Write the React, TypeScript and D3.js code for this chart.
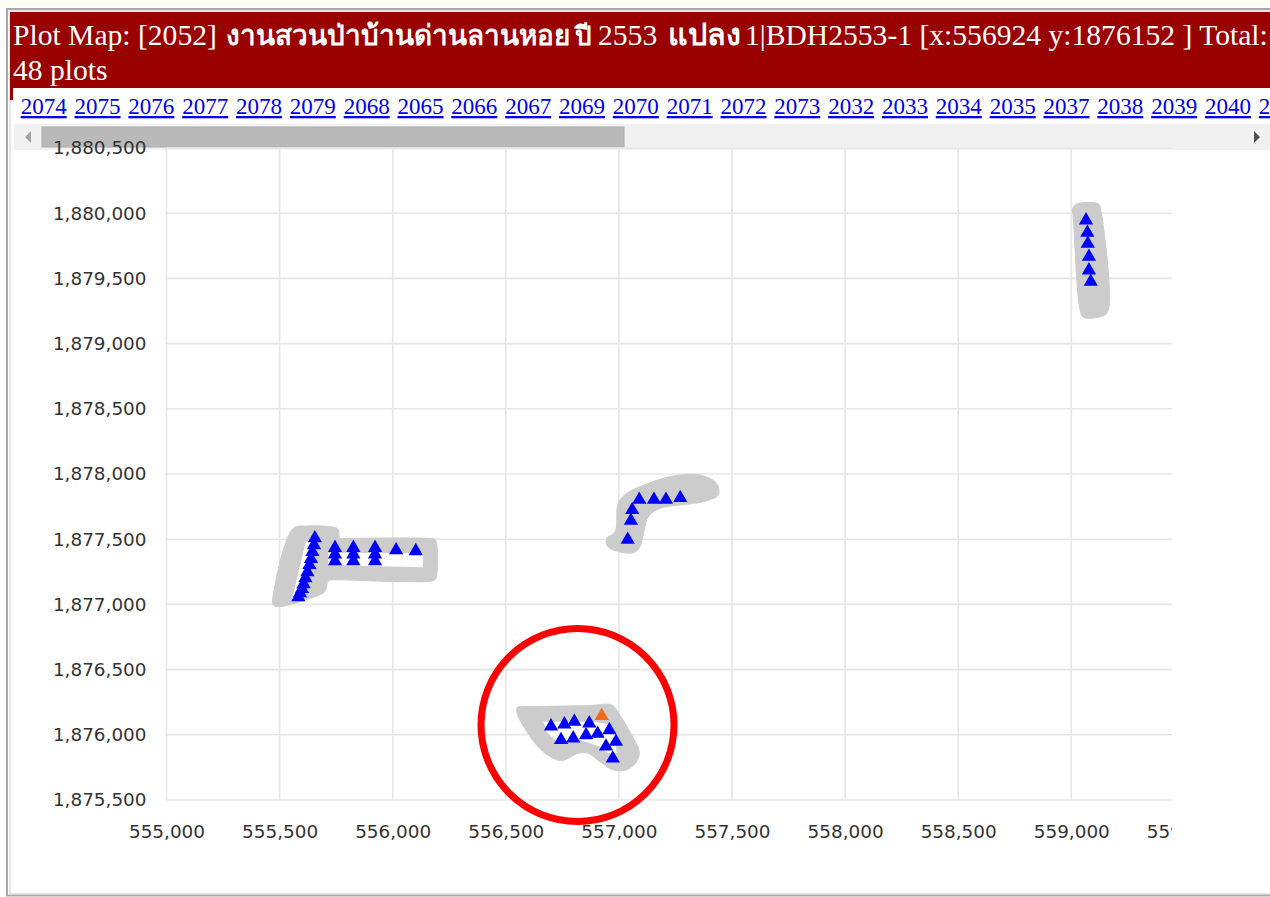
import React, { useEffect, useRef } from "react";
import * as d3 from "d3";

type Pt = [number, number];

const xTicks = [555000, 555500, 556000, 556500, 557000, 557500, 558000, 558500, 559000, 559500];
const yTicks = [1875500, 1876000, 1876500, 1877000, 1877500, 1878000, 1878500, 1879000, 1879500, 1880000, 1880500];

const plotLinks = [
  "2074", "2075", "2076", "2077", "2078", "2079", "2068", "2065", "2066", "2067", "2069", "2070",
  "2071", "2072", "2073", "2032", "2033", "2034", "2035", "2037", "2038", "2039", "2040", "2041",
];

// plots
const plotsNorth: Pt[] = [
  [559065, 1879953], [559071, 1879858], [559073, 1879774], [559078, 1879674], [559078, 1879570], [559086, 1879482],
];
const plotsMiddle: Pt[] = [
  [557039, 1877504], [557053, 1877650], [557059, 1877732], [557090, 1877811], [557155, 1877811], [557208, 1877811], [557271, 1877824],
];
const plotsSouth: Pt[] = [
  [556700, 1876073], [556759, 1876088], [556803, 1876108], [556869, 1876096], [556744, 1875968], [556798, 1875981],
  [556855, 1876006], [556906, 1876016], [556958, 1876044], [556987, 1875955], [556943, 1875919], [556973, 1875827],
];
const plotsWest: Pt[] = [
  [555656, 1877515], [555652, 1877463], [555645, 1877410], [555639, 1877356], [555632, 1877310], [555623, 1877256],
  [555614, 1877210], [555606, 1877164], [555599, 1877126], [555590, 1877095], [555583, 1877064],
  [555745, 1877442], [555745, 1877392], [555745, 1877340],
  [555826, 1877442], [555826, 1877392], [555826, 1877340],
  [555922, 1877442], [555922, 1877392], [555922, 1877340],
  [556015, 1877423], [556102, 1877417],
];
const currentPlot: Pt = [556924, 1876152];

// gray buffer areas around the plots
const zoneNorth: Pt[] = [
  [559006, 1880037], [559024, 1880071], [559120, 1880071], [559130, 1880025], [559167, 1879283],
  [559149, 1879220], [559053, 1879202], [559039, 1879258], [559009, 1879961],
];
const zoneMiddle: Pt[] = [
  [556946, 1877506], [556983, 1877557], [556997, 1877775], [557034, 1877851], [557130, 1877928], [557240, 1877984],
  [557358, 1877992], [557432, 1877928], [557439, 1877839], [557373, 1877788], [557181, 1877736], [557130, 1877672],
  [557093, 1877442], [557064, 1877396], [556975, 1877417], [556949, 1877448],
];
const zoneSouth: Pt[] = [
  [556551, 1876211], [556621, 1876216], [556872, 1876224], [556968, 1876229], [557004, 1876152], [557056, 1875999],
  [557090, 1875871], [557078, 1875794], [557034, 1875731], [556975, 1875731], [556916, 1875794], [556865, 1875858],
  [556820, 1875858], [556747, 1875802], [556695, 1875833], [556636, 1875922], [556562, 1876114], [556551, 1876165],
];
const holeSouth: Pt[] = [
  [556666, 1876101], [556901, 1876101], [556960, 1876076], [556982, 1876012], [556990, 1875858], [556953, 1875858],
  [556916, 1875909], [556828, 1875961], [556725, 1875948], [556680, 1876024],
];
const zoneWest: Pt[] = [
  [555560, 1877583], [555619, 1877601], [555745, 1877590], [555759, 1877575], [555767, 1877507], [555800, 1877507], [556150, 1877507],
  [556185, 1877500], [556194, 1877468], [556194, 1877220], [556185, 1877187], [556047, 1877174], [555730, 1877187], [555715, 1877180],
  [555700, 1877098], [555664, 1877065], [555501, 1876983], [555472, 1876996], [555472, 1877072],
];
const holeWestA: Pt[] = [[555616, 1877481], [555664, 1877481], [555605, 1877054], [555557, 1877054]];
const holeWestB: Pt[] = [[555715, 1877397], [556135, 1877392], [556132, 1877284], [555715, 1877302]];

const W = 1270;
const H = 897;
const CROP_RIGHT = 1172;

const x = d3.scaleLinear().domain([555000, 559000]).range([166.5, 1071.3]);
const y = d3.scaleLinear().domain([1875500, 1880500]).range([800, 148]);

const SERIF = "'Liberation Serif', 'Times New Roman', serif";

export default function App() {
  const plotRef = useRef<SVGGElement>(null);

  useEffect(() => {
    const g = d3.select(plotRef.current);
    g.selectAll("*").remove();

    const fmt = d3.format(",");

    const grid = g.append("g").attr("clip-path", "url(#plotClip)").attr("stroke", "#e6e6e6").attr("stroke-width", 1.6);
    grid.selectAll(".gy").data(yTicks).join("line").attr("class", "gy")
      .attr("x1", 166.5).attr("x2", CROP_RIGHT).attr("y1", (d) => y(d)).attr("y2", (d) => y(d));
    grid.selectAll(".gx").data(xTicks).join("line").attr("class", "gx")
      .attr("y1", 148).attr("y2", 800).attr("x1", (d) => x(d)).attr("x2", (d) => x(d));

    // labels through the d3 axes
    const yAxis = g.append("g").attr("transform", "translate(166.5,0)").call(
      d3.axisLeft(y).tickValues(yTicks).tickFormat((d) => fmt(d as number)).tickSize(0).tickPadding(20)
    );
    const xAxis = g.append("g").attr("clip-path", "url(#plotClip)").append("g").attr("transform", "translate(0,800)").call(
      d3.axisBottom(x).tickValues(xTicks).tickFormat((d) => fmt(d as number)).tickSize(0).tickPadding(25)
    );
    [yAxis, xAxis].forEach((a) => {
      a.select(".domain").remove();
      a.selectAll("text").style("font-family", "'DejaVu Sans', sans-serif").style("font-size", "18.4px").style("fill", "#333");
    });

    const line = d3.line<Pt>().x((d) => x(d[0])).y((d) => y(d[1]));
    const smooth = d3.line<Pt>().x((d) => x(d[0])).y((d) => y(d[1])).curve(d3.curveCatmullRomClosed.alpha(0.5));
    const closed = (pts: Pt[]) => line(pts) + "Z";

    const zones = [
      { outer: zoneNorth, holes: [] as Pt[][] },
      { outer: zoneMiddle, holes: [] as Pt[][] },
      { outer: zoneSouth, holes: [holeSouth] },
      { outer: zoneWest, holes: [holeWestA, holeWestB] },
    ];
    const zoneG = g.append("g").attr("filter", "url(#soft)");
    zoneG.selectAll("path.outer").data(zones).join("path").attr("class", "outer")
      .attr("d", (z) => smooth(z.outer))
      .attr("fill", "#cccccc").attr("stroke", "#cccccc").attr("stroke-width", 1).attr("stroke-linejoin", "round");
    zoneG.selectAll("path.hole").data(zones.flatMap((z) => z.holes)).join("path").attr("class", "hole")
      .attr("d", closed).attr("fill", "#fff");

    const tri = d3.symbol().type(d3.symbolTriangle).size(88);
    const plots = [...plotsNorth, ...plotsMiddle, ...plotsSouth, ...plotsWest];
    g.append("g").selectAll("path").data(plots).join("path")
      .attr("d", tri as any)
      .attr("transform", (d) => `translate(${x(d[0])},${y(d[1]) + 1})`)
      .attr("fill", "#0000ff");
    g.append("path").attr("d", tri as any)
      .attr("transform", `translate(${x(currentPlot[0])},${y(currentPlot[1]) + 1})`)
      .attr("fill", "#f26a1b");
  }, []);

  return (
    <svg width={W} height={H} style={{ position: "absolute", left: 0, top: 0, display: "block", background: "#fff" }}>
      <defs>
        <clipPath id="plotClip"><rect x={0} y={120} width={CROP_RIGHT} height={760} /></clipPath>
        <filter id="soft"><feGaussianBlur stdDeviation={0.5} /></filter>
      </defs>

      {/* page frame */}
      <rect x={0} y={0} width={W} height={7} fill="#fffef6" />
      <path d={`M${W},9 H7 V895.5 H${W}`} fill="none" stroke="#a8a8a8" strokeWidth={2} />
      <path d={`M${W},11 H10 V894 H${W}`} fill="none" stroke="#d0d0d0" strokeWidth={1} />

      {/* header */}
      <rect x={10} y={12} width={W - 10} height={76} fill="#990000" />
      <rect x={10} y={88} width={3} height={12} fill="#990000" />
      <text y={45} fill="#fff" fontFamily={SERIF} fontSize={29.6}>
        <tspan x={13}>Plot Map: [2052]</tspan>
        <tspan x={226} fontWeight="bold" fontSize={27.9}>งานสวนป่าบ้านด่านลานหอย</tspan>
        <tspan x={575} fontWeight="bold" fontSize={26}>ปี</tspan>
        <tspan x={598}>2553</tspan>
        <tspan x={668} fontWeight="bold" fontSize={30.5}>แปลง</tspan>
        <tspan x={745}>1|BDH2553-1 [x:556924 y:1876152 ] Total:</tspan>
      </text>
      <text x={13} y={80} fill="#fff" fontFamily={SERIF} fontSize={29.6}>48 plots</text>

      {/* plot links */}
      <g fontFamily={SERIF} fontSize={23} fill="#0000ee" textDecoration="underline">
        {plotLinks.map((p, i) => (
          <text key={p} x={20.7 + i * 53.83} y={114}>{p}</text>
        ))}
      </g>

      {/* scrollbar */}
      <rect x={14} y={124} width={W - 14} height={26} fill="#f1f1f1" />
      <rect x={42} y={127} width={582} height={20} fill="#b9b9b9" stroke="#acacac" />
      <path d="M31,131 L25,137 L31,143 Z" fill="#a3a3a3" />
      <path d="M1254,131 L1260,137 L1254,143 Z" fill="#505050" />

      <g ref={plotRef} />

      {/* hand drawn mark around the current plot */}
      <circle cx={577.5} cy={725} r={96.5} fill="none" stroke="#ff0000" strokeWidth={7} />
    </svg>
  );
}
